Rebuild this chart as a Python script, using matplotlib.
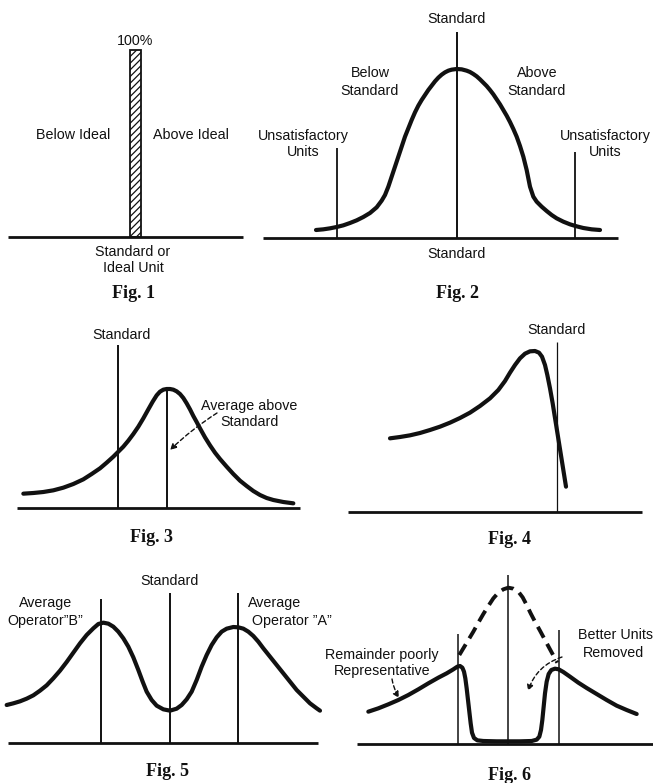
import matplotlib
matplotlib.use("Agg")
import matplotlib.pyplot as plt
from matplotlib.transforms import Affine2D

W, H = 653, 783

# ---------------- data ----------------
# Curves are given in each panel's local units (1/3 pixel, measured from the
# panel's top-left corner); panel origins below place them on the page.
fig1_bar_x = [135.5]
fig1_bar_top = [50]
fig1_base_y = 237

# Fig 2 (normal curve), panel origin (230, 0)
fig2_x = [258, 280, 300, 320, 340, 360, 380, 400, 420, 440, 455, 465, 475, 485, 495, 505,
          515, 525, 535, 545, 555, 565, 575, 585, 595, 605, 615, 625, 635, 645, 655, 665,
          680, 695, 710, 720, 730, 740, 750, 760, 770, 780, 790, 800, 810, 820, 830, 840,
          850, 860, 870, 880, 890, 900, 910, 920, 935, 950, 965, 980, 1000, 1020, 1040,
          1060, 1085, 1110]
fig2_y = [690, 688, 685, 681, 676, 669, 661, 651, 639, 622, 602, 585, 560, 530, 500, 470,
          440, 410, 385, 360, 337, 317, 300, 285, 270, 257, 244, 233, 224, 217, 212, 209,
          207, 208, 212, 216, 222, 229, 238, 248, 258, 270, 283, 298, 313, 330, 347, 366,
          387, 410, 438, 470, 510, 560, 590, 605, 620, 633, 645, 655, 665, 673, 679,
          684, 688, 690]

# Fig 3 (average above standard), panel origin (0, 310)
fig3_x = [70, 100, 130, 160, 190, 220, 250, 275, 300, 320, 340, 355, 370, 385, 400, 415,
          430, 445, 458, 470, 480, 490, 500, 510, 520, 530, 540, 550, 560, 570, 580, 590,
          600, 615, 630, 645, 660, 680, 700, 720, 740, 760, 780, 800, 820, 850, 880]
fig3_y = [551, 549, 546, 541, 533, 522, 508, 492, 475, 458, 440, 425, 410, 392, 372, 350,
          325, 298, 275, 256, 245, 239, 237, 237, 239, 244, 252, 264, 280, 298, 318, 336,
          355, 382, 406, 428, 447, 470, 492, 512, 528, 543, 555, 564, 570, 576, 580]

# Fig 4 (skewed), panel origin (330, 310)
fig4_x = [180, 210, 240, 270, 300, 330, 360, 390, 420, 450, 480, 505, 525, 540, 555, 570,
          585, 600, 615, 627, 636, 645, 652, 660, 668, 676, 684, 692, 700, 708]
fig4_y = [385, 381, 376, 369, 360, 350, 338, 324, 308, 288, 265, 240, 213, 188, 165, 145,
          131, 124, 123, 128, 140, 165, 195, 235, 280, 330, 380, 430, 480, 530]

# Fig 5 (two operators), panel origin (0, 540)
fig5_x = [20, 40, 60, 80, 100, 120, 140, 160, 180, 200, 220, 240, 260, 280, 295, 310, 325,
          340, 355, 370, 385, 400, 415, 428, 440, 455, 470, 490, 510, 530, 545, 560, 575,
          590, 605, 620, 635, 650, 665, 680, 700, 715, 730, 745, 760, 775, 790, 810, 830,
          850, 870, 890, 910, 930, 950, 960]
fig5_y = [495, 490, 484, 476, 466, 452, 436, 415, 392, 366, 338, 310, 285, 265, 252, 248,
          251, 260, 275, 295, 320, 352, 390, 425, 455, 480, 497, 508, 512, 506, 495, 478,
          455, 420, 380, 345, 315, 292, 275, 266, 261, 262, 266, 275, 288, 305, 325, 350,
          375, 400, 425, 450, 470, 490, 505, 512]

# Fig 6 (better units removed), panel origin (320, 540)
fig6_x = [145, 175, 205, 235, 265, 295, 325, 355, 380, 400, 412, 420, 427, 432, 436, 440,
          444, 448, 452, 456, 462, 472, 490, 530, 600, 635, 650, 658, 663, 667, 671, 675,
          680, 686, 694, 705, 716, 730, 750, 775, 800, 830, 860, 890, 920, 950]
fig6_y = [515, 505, 493, 480, 465, 448, 430, 413, 400, 388, 380, 378, 383, 395, 415, 445,
          480, 515, 550, 578, 594, 601, 603, 604, 604, 603, 599, 590, 570, 540, 500, 460,
          425, 402, 390, 386, 388, 396, 410, 428, 444, 462, 480, 497, 510, 522]
fig6_dash_x = [418, 430, 445, 460, 475, 490, 505, 520, 535, 550, 565, 580, 595, 608, 620,
               632, 645, 660, 675, 690, 702, 712]
fig6_dash_y = [345, 325, 300, 275, 248, 222, 198, 175, 158, 148, 143, 146, 155, 172, 195,
               220, 245, 272, 300, 328, 350, 368]

panel_origin = {2: (230, 0), 3: (0, 310), 4: (330, 310), 5: (0, 540), 6: (320, 540)}
local_scale = 1 / 3

# baselines: (x0, x1, y) in page pixels
baselines = [(8, 243, 237), (263, 618, 238), (17, 300, 508), (348, 642, 512),
             (8, 318, 743), (357, 653, 744)]
# vertical reference lines: (x, y_top, y_bottom, width)
verticals = [(457, 32, 238, 1.4), (337, 148, 238, 1.3), (575, 152, 238, 1.3),
             (118, 345, 508, 1.4), (167, 390, 508, 1.4),
             (557, 342, 512, 0.9),
             (101, 599, 743, 1.4), (170, 593, 743, 1.4), (238, 593, 743, 1.4),
             (508, 575, 744, 1.1), (458, 634, 744, 1.1), (559, 630, 744, 1.1)]

# labels: (text, x, y, ha)
labels = [
    ("100%", 135, 41, "center"),
    ("Below Ideal", 73, 135, "center"),
    ("Above Ideal", 191, 135, "center"),
    ("Standard or", 133, 252, "center"),
    ("Ideal Unit", 133, 268, "center"),
    ("Standard", 457, 19, "center"),
    ("Below", 370, 73, "center"),
    ("Standard", 370, 91, "center"),
    ("Above", 537, 73, "center"),
    ("Standard", 537, 91, "center"),
    ("Unsatisfactory", 303, 136, "center"),
    ("Units", 303, 152, "center"),
    ("Unsatisfactory", 605, 136, "center"),
    ("Units", 605, 152, "center"),
    ("Standard", 457, 254, "center"),
    ("Standard", 122, 335, "center"),
    ("Average above", 249, 406, "center"),
    ("Standard", 250, 422, "center"),
    ("Standard", 557, 330, "center"),
    ("Standard", 170, 581, "center"),
    ("Average", 46, 603, "center"),
    ("Operator\u201dB\u201d", 45, 621, "center"),
    ("Average", 248, 603, "left"),
    ("Operator \u201dA\u201d", 252, 621, "left"),
    ("Remainder poorly", 382, 655, "center"),
    ("Representative", 382, 671, "center"),
    ("Better Units", 578, 635, "left"),
    ("Removed", 583, 653, "left"),
]
fig_titles = [("Fig. 1", 133, 293), ("Fig. 2", 457, 293), ("Fig. 3", 152, 538),
              ("Fig. 4", 510, 540), ("Fig. 5", 167, 772), ("Fig. 6", 510, 775)]

# ---------------- drawing ----------------
fig = plt.figure(figsize=(W / 100, H / 100), dpi=100)
ax = fig.add_axes([0, 0, 1, 1])
ax.set_xlim(0, W)
ax.set_ylim(H, 0)
ax.axis("off")

ink = "#111111"
plt.rcParams["hatch.linewidth"] = 0.9


def panel_tf(k):
    ox, oy = panel_origin[k]
    return Affine2D().scale(local_scale).translate(ox, oy) + ax.transData


for x0, x1, y in baselines:
    ax.plot([x0, x1], [y, y], color=ink, lw=2.0, solid_capstyle="butt")

for x, yt, yb, lw in verticals:
    ax.plot([x, x], [yt, yb], color=ink, lw=lw, solid_capstyle="butt")

# Fig 1 hatched bar
ax.bar(fig1_bar_x, [fig1_bar_top[0] - fig1_base_y], bottom=fig1_base_y, width=11,
       facecolor="white", edgecolor=ink, linewidth=1.3, hatch="/////")

curve_kw = dict(color=ink, lw=3.0, solid_capstyle="round", solid_joinstyle="round")
for k, xs, ys in [(2, fig2_x, fig2_y), (3, fig3_x, fig3_y), (4, fig4_x, fig4_y),
                  (5, fig5_x, fig5_y), (6, fig6_x, fig6_y)]:
    ax.plot(xs, ys, transform=panel_tf(k), **curve_kw)
ax.plot(fig6_dash_x, fig6_dash_y, transform=panel_tf(6), color=ink, lw=2.8,
        linestyle=(0, (3.2, 1.8)), dash_capstyle="butt")

# dashed arrows
arrow_kw = dict(arrowstyle="-|>", color=ink, lw=1.0, linestyle=(0, (3, 2)),
                mutation_scale=9, shrinkA=0, shrinkB=0)
ax.annotate("", xy=(170, 450), xytext=(217, 413),
            arrowprops=dict(**arrow_kw, connectionstyle="arc3,rad=0.05"))
ax.annotate("", xy=(528, 691), xytext=(562, 657),
            arrowprops=dict(**arrow_kw, connectionstyle="arc3,rad=0.25"))
ax.annotate("", xy=(399, 698), xytext=(392, 679),
            arrowprops=dict(**arrow_kw, connectionstyle="arc3,rad=0.1"))

for t, x, y, ha in labels:
    ax.text(x, y, t, ha=ha, va="center", fontsize=10.3, color=ink,
            family="Liberation Sans", clip_on=False)

for t, x, y in fig_titles:
    ax.text(x, y, t, ha="center", va="center", fontsize=13, color=ink,
            family="Liberation Serif", fontweight="bold")

fig.savefig("out.png", dpi=100, facecolor="white")
